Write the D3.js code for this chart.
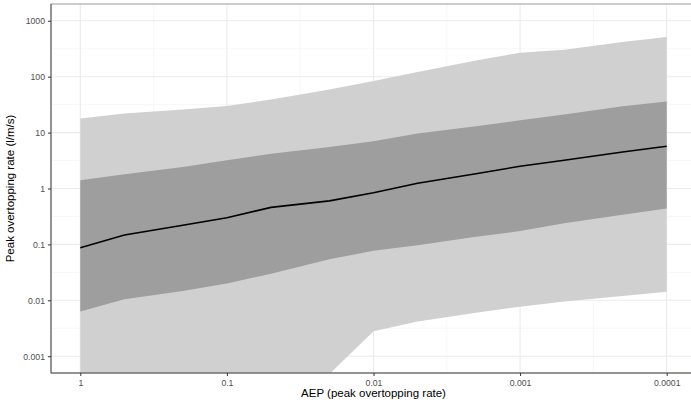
<!DOCTYPE html>
<html>
<head>
<meta charset="utf-8">
<script src="https://cdn.jsdelivr.net/npm/d3@7"></script>
<style>
  body { margin: 0; background: #fff; }
  svg { display: block; font-family: "Liberation Sans", Arial, sans-serif; }
</style>
</head>
<body>
<svg width="691" height="404"></svg>
<script>
var aep = [1, 0.5, 0.2, 0.1, 0.05, 0.02, 0.01, 0.005, 0.002, 0.001, 0.0005, 0.0002, 0.0001];
var median = [0.087, 0.147, 0.22, 0.30, 0.46, 0.60, 0.84, 1.24, 1.84, 2.5, 3.2, 4.5, 5.7];
var innerUpper = [1.41, 1.8, 2.43, 3.2, 4.2, 5.5, 7.0, 9.6, 13, 16.6, 21, 29.5, 36];
var innerLower = [0.0063, 0.0105, 0.0147, 0.020, 0.030, 0.054, 0.077, 0.097, 0.137, 0.173, 0.24, 0.34, 0.44];
var outerUpper = [17.8, 22, 26, 30, 39, 59, 84, 121, 195, 268, 304, 416, 510];
var outerLower = [0.00003, 0.00006, 0.0001, 0.00015, 0.00025, 0.00048, 0.0028, 0.0042, 0.006, 0.0077, 0.0095, 0.012, 0.0142];

var xTicks = [1, 0.1, 0.01, 0.001, 0.0001];
var xTickLabels = ["1", "0.1", "0.01", "0.001", "0.0001"];
var yTicks = [0.001, 0.01, 0.1, 1, 10, 100, 1000];
var yTickLabels = ["0.001", "0.01", "0.1", "1", "10", "100", "1000"];

var svg = d3.select("svg"),
    margin = {top: 4, right: -5, bottom: 31, left: 51},
    width = +svg.attr("width") - margin.left - margin.right,
    height = +svg.attr("height") - margin.top - margin.bottom;

var x = d3.scaleLog()
    .domain([Math.pow(10, 0.2), Math.pow(10, -4.2)])
    .range([0, width]);

var y = d3.scaleLog()
    .domain([Math.pow(10, -3.3), Math.pow(10, 3.3)])
    .range([height, 0]);

var g = svg.append("g")
    .attr("transform", "translate(" + margin.left + "," + margin.top + ")");

g.append("clipPath")
    .attr("id", "clip")
  .append("rect")
    .attr("width", width)
    .attr("height", height);

// grid: minor lines at log midpoints, major at decades
var xMinor = [-0.5, -1.5, -2.5, -3.5].map(function(e) { return Math.pow(10, e); });
var yMinor = [-2.5, -1.5, -0.5, 0.5, 1.5, 2.5].map(function(e) { return Math.pow(10, e); });

var grid = g.append("g").attr("class", "grid");
grid.selectAll(".xminor").data(xMinor).enter().append("line")
    .attr("x1", function(d) { return x(d); }).attr("x2", function(d) { return x(d); })
    .attr("y1", 0).attr("y2", height)
    .attr("stroke", "#f2f2f2").attr("stroke-width", 0.6);
grid.selectAll(".yminor").data(yMinor).enter().append("line")
    .attr("y1", function(d) { return y(d); }).attr("y2", function(d) { return y(d); })
    .attr("x1", 0).attr("x2", width)
    .attr("stroke", "#f2f2f2").attr("stroke-width", 0.6);
grid.selectAll(".xmajor").data(xTicks).enter().append("line")
    .attr("x1", function(d) { return x(d); }).attr("x2", function(d) { return x(d); })
    .attr("y1", 0).attr("y2", height)
    .attr("stroke", "#ebebeb").attr("stroke-width", 1.1);
grid.selectAll(".ymajor").data(yTicks).enter().append("line")
    .attr("y1", function(d) { return y(d); }).attr("y2", function(d) { return y(d); })
    .attr("x1", 0).attr("x2", width)
    .attr("stroke", "#ebebeb").attr("stroke-width", 1.1);

var rows = aep.map(function(a, i) {
    return {aep: a, med: median[i], iu: innerUpper[i], il: innerLower[i], ou: outerUpper[i], ol: outerLower[i]};
});

var plot = g.append("g").attr("clip-path", "url(#clip)");

var outerArea = d3.area()
    .x(function(d) { return x(d.aep); })
    .y0(function(d) { return y(d.ol); })
    .y1(function(d) { return y(d.ou); });

var innerArea = d3.area()
    .x(function(d) { return x(d.aep); })
    .y0(function(d) { return y(d.il); })
    .y1(function(d) { return y(d.iu); });

var medLine = d3.line()
    .x(function(d) { return x(d.aep); })
    .y(function(d) { return y(d.med); });

plot.append("path").datum(rows).attr("d", outerArea).attr("fill", "#d0d0d0");
plot.append("path").datum(rows).attr("d", innerArea).attr("fill", "#9e9e9e");
plot.append("path").datum(rows).attr("d", medLine)
    .attr("fill", "none").attr("stroke", "#000").attr("stroke-width", 1.6);

// panel border + axis lines
g.append("rect")
    .attr("width", width).attr("height", height)
    .attr("fill", "none").attr("stroke", "#9a9a9a").attr("stroke-width", 1);
g.append("line").attr("x1", 0).attr("x2", 0).attr("y1", 0).attr("y2", height)
    .attr("stroke", "#5a5a5a").attr("stroke-width", 1);
g.append("line").attr("x1", 0).attr("x2", width).attr("y1", height).attr("y2", height)
    .attr("stroke", "#5a5a5a").attr("stroke-width", 1);

// axes
var xAxis = g.append("g")
    .attr("transform", "translate(0," + height + ")")
    .call(d3.axisBottom(x).tickValues(xTicks)
        .tickFormat(function(d, i) { return xTickLabels[i]; })
        .tickSize(3).tickPadding(4));
var yAxis = g.append("g")
    .call(d3.axisLeft(y).tickValues(yTicks)
        .tickFormat(function(d, i) { return yTickLabels[i]; })
        .tickSize(3).tickPadding(3));

[xAxis, yAxis].forEach(function(a) {
    a.select(".domain").remove();
    a.selectAll(".tick line").attr("stroke", "#333");
    a.selectAll(".tick text")
        .attr("fill", "#4d4d4d")
        .style("font-size", "8.7px")
        .style("font-family", "Liberation Sans, Arial, sans-serif");
});

svg.append("text")
    .attr("x", margin.left + x(0.01))
    .attr("y", 397)
    .attr("text-anchor", "middle")
    .style("font-size", "11.5px")
    .attr("fill", "#000")
    .text("AEP (peak overtopping rate)");

svg.append("text")
    .attr("transform", "translate(14," + (margin.top + height / 2) + ") rotate(-90)")
    .attr("text-anchor", "middle")
    .style("font-size", "11.5px")
    .attr("fill", "#000")
    .text("Peak overtopping rate (l/m/s)");
</script>
</body>
</html>
